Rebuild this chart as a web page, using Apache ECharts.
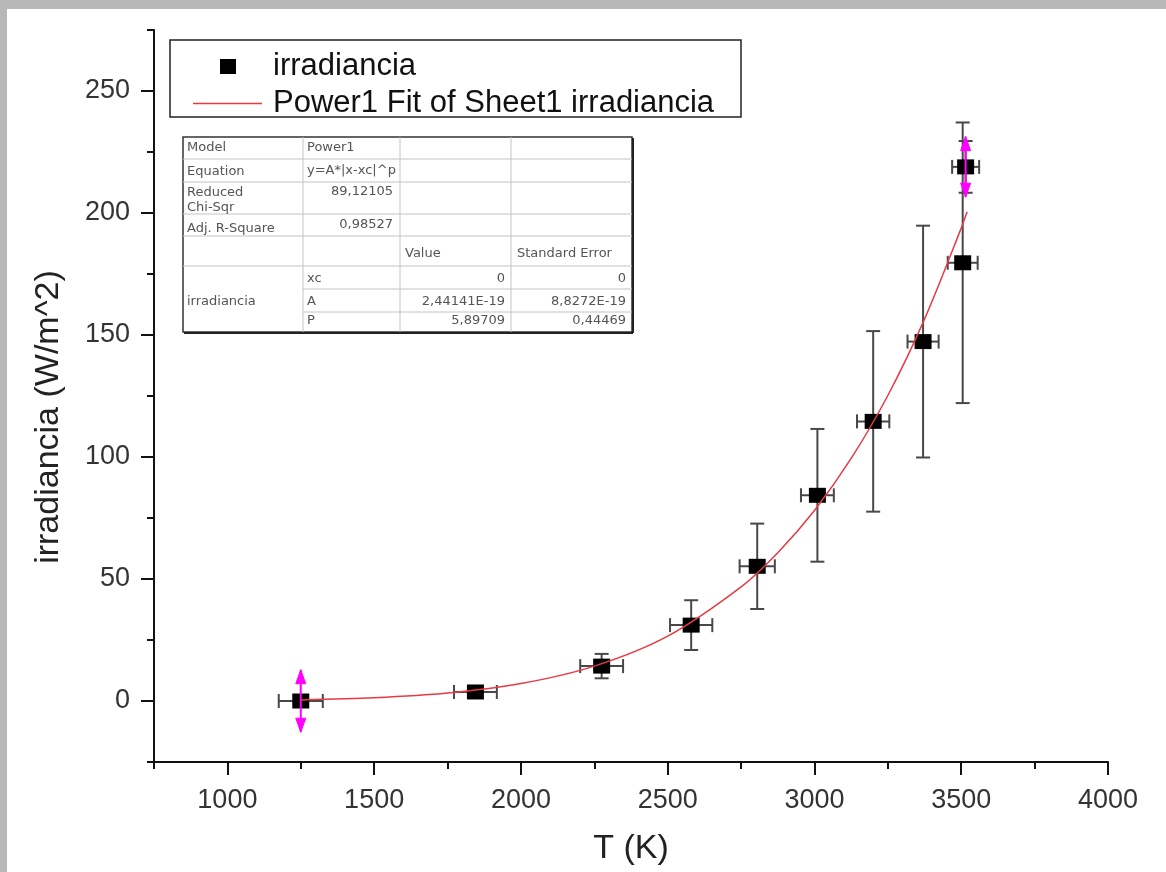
<!DOCTYPE html>
<html>
<head>
<meta charset="utf-8">
<script src="https://cdn.jsdelivr.net/npm/echarts@6/dist/echarts.min.js"></script>
<style>
html,body{margin:0;padding:0;width:1166px;height:872px;background:#b7b7b7;overflow:hidden;}
#main{position:absolute;left:7px;top:9px;width:1159px;height:863px;background:#ffffff;}
</style>
</head>
<body>
<div id="main"></div>
<script>
// ---- data ----
const T        = [1250, 1845, 2275, 2580, 2805, 3010, 3200, 3370, 3505, 3515];
const irr      = [0, 3.7, 14.3, 31.1, 55.2, 84.3, 114.6, 147.3, 179.6, 218.9];
const Terr     = [75, 73, 73, 72, 60, 56, 55, 53, 51, 46];
const irrErr   = [0, 1, 5, 10.2, 17.5, 27.2, 37, 47.5, 57.5, 10.6];
const clipErr  = [12.8, 0, 0, 0, 0, 0, 0, 0, 0, 12.4];   // magenta arrows
const fitT     = [1250, 1500, 1750, 2000, 2250, 2500, 2750, 2875, 3000, 3125, 3250, 3375, 3500, 3520];
const fitY     = [0.45, 1.31, 3.25, 7.15, 14.3, 26.6, 46.8, 60.8, 78.1, 99.4, 125.2, 156.5, 193.8, 200.5];
const xMajor   = [1000, 1500, 2000, 2500, 3000, 3500, 4000];
const xMinor   = [750, 1250, 1750, 2250, 2750, 3250, 3750];
const yMajor   = [0, 50, 100, 150, 200, 250];
const yMinor   = [-25, 25, 75, 125, 175, 225, 275];
const seriesName = 'irradiancia';
const fitName    = 'Power1 Fit of Sheet1 irradiancia';
// fit report table cells
const tableLeft  = [['Model', 148], ['Equation', 172], ['Reduced', 193], ['Chi-Sqr', 208], ['Adj. R-Square', 229], ['irradiancia', 302]];
const tableCol2L = [['Power1', 148], ['y=A*|x-xc|^p', 171], ['xc', 279], ['A', 302], ['P', 321]];
const tableCol2R = [['89,12105', 192], ['0,98527', 225]];
const tableHead  = [['Value', 405], ['Standard Error', 517]];
const tableVal   = [['0', '0', 279], ['2,44141E-19', '8,8272E-19', 302], ['5,89709', '0,44469', 321]];

const OX = 7, OY = 9; // page offset of chart area
const font = "'Liberation Sans', Arial, sans-serif";
const chart = echarts.init(document.getElementById('main'));

// table graphics (page coords -> chart coords)
const tL = 183 - OX, tT = 137 - OY, tR = 632 - OX, tB = 332 - OY;
const c1 = 303 - OX, c2 = 400 - OX, c3 = 511 - OX;
const rows = [159, 182, 214, 236, 266].map(v => v - OY);
const subRows = [289, 312].map(v => v - OY);
const tbl = [];
tbl.push({type:'rect', shape:{x:tL, y:tT, width:tR - tL, height:tB - tT}, style:{fill:'#fff', stroke:'#333', lineWidth:1.5}, z:10});
rows.forEach(y => tbl.push({type:'line', shape:{x1:tL, y1:y, x2:tR, y2:y}, style:{stroke:'#c4c4c4', lineWidth:1}, z:11}));
subRows.forEach(y => tbl.push({type:'line', shape:{x1:c1, y1:y, x2:tR, y2:y}, style:{stroke:'#c4c4c4', lineWidth:1}, z:11}));
[c1, c2, c3].forEach(x => tbl.push({type:'line', shape:{x1:x, y1:tT, x2:x, y2:tB}, style:{stroke:'#c4c4c4', lineWidth:1}, z:11}));
tbl.push({type:'line', shape:{x1:tR + 1, y1:tT + 1, x2:tR + 1, y2:tB + 1}, style:{stroke:'#222', lineWidth:2}, z:12});
tbl.push({type:'line', shape:{x1:tL + 1, y1:tB + 1, x2:tR + 1, y2:tB + 1}, style:{stroke:'#222', lineWidth:2}, z:12});
const tStyle = (txt, x, y, align) => ({type:'text', x:x, y:y, z:13,
  style:{text:txt, fill:'#555', font:"13px 'DejaVu Sans', sans-serif", textAlign:align, textVerticalAlign:'middle'}});
tableLeft.forEach(([t, y]) => tbl.push(tStyle(t, 187 - OX, y - OY, 'left')));
tableCol2L.forEach(([t, y]) => tbl.push(tStyle(t, 307 - OX, y - OY, 'left')));
tableCol2R.forEach(([t, y]) => tbl.push(tStyle(t, 393 - OX, y - OY, 'right')));
tableHead.forEach(([t, x]) => tbl.push(tStyle(t, x - OX, 254 - OY, 'left')));
tableVal.forEach(([a, b, y]) => { tbl.push(tStyle(a, 505 - OX, y - OY, 'right')); tbl.push(tStyle(b, 626 - OX, y - OY, 'right')); });

const axisCommon = {
  type:'value', splitLine:{show:false},
};
const plain = v => String(v);

chart.setOption({
  animation:false,
  grid:{left:154 - OX, top:30 - OY, width:954, height:732, containLabel:false},
  legend:[
    {data:[{name:seriesName, icon:'rect'}], left:213, top:42, orient:'vertical', padding:0,
     itemWidth:16, itemHeight:15, selectedMode:false,
     textStyle:{fontSize:31, color:'#111', fontFamily:font, padding:[0,0,0,32]}},
    {data:[{name:fitName, icon:'rect'}], left:186, top:79, orient:'vertical', padding:0,
     itemWidth:69, itemHeight:1.5, selectedMode:false,
     textStyle:{fontSize:31, color:'#111', fontFamily:font, padding:[0,0,0,6]}}
  ],
  xAxis:[
    Object.assign({}, axisCommon, {min:750, max:4000, position:'bottom',
      name:'T (K)', nameLocation:'middle', nameGap:70,
      nameTextStyle:{fontSize:34, color:'#222', fontFamily:font},
      axisLine:{show:true, onZero:false, lineStyle:{color:'#111', width:2}},
      axisTick:{show:true, customValues:xMajor, length:13, lineStyle:{color:'#111', width:2}},
      axisLabel:{show:true, customValues:xMajor, formatter:plain, fontSize:27, color:'#333', fontFamily:font, margin:25}}),
    Object.assign({}, axisCommon, {min:750, max:4000, position:'bottom',
      axisLine:{show:false, onZero:false},
      axisTick:{show:true, customValues:xMinor, length:7, lineStyle:{color:'#111', width:2}},
      axisLabel:{show:false}})
  ],
  yAxis:[
    Object.assign({}, axisCommon, {min:-25, max:275, position:'left',
      name:'irradiancia (W/m^2)', nameLocation:'middle', nameGap:88,
      nameTextStyle:{fontSize:34, color:'#222', fontFamily:font, padding:[0,42,0,0]},
      axisLine:{show:true, onZero:false, lineStyle:{color:'#111', width:2}},
      axisTick:{show:true, customValues:yMajor, length:13, lineStyle:{color:'#111', width:2}},
      axisLabel:{show:true, customValues:yMajor, formatter:plain, fontSize:27, color:'#333', fontFamily:font, margin:24}}),
    Object.assign({}, axisCommon, {min:-25, max:275, position:'left',
      axisLine:{show:false, onZero:false},
      axisTick:{show:true, customValues:yMinor, length:7, lineStyle:{color:'#111', width:2}},
      axisLabel:{show:false}})
  ],
  graphic:[
    {type:'rect', shape:{x:170 - OX, y:40 - OY, width:571, height:77}, style:{fill:'none', stroke:'#222', lineWidth:1.5}, z:5},
    {type:'group', children:tbl}
  ],
  series:[
    {type:'custom', name:'errbars', xAxisIndex:0, yAxisIndex:0, z:2,
     data:T.map((t, i) => [t, irr[i], Terr[i], irrErr[i]]),
     encode:{x:0, y:1},
     renderItem:function(params, api){
       const x = api.value(0), y = api.value(1), ex = api.value(2), ey = api.value(3);
       const l = api.coord([x - ex, y]), r = api.coord([x + ex, y]);
       const t = api.coord([x, y + ey]), b = api.coord([x, y - ey]);
       const st = {stroke:'#484848', lineWidth:2};
       const ch = [
         {type:'line', shape:{x1:l[0], y1:l[1], x2:r[0], y2:r[1]}, style:st},
         {type:'line', shape:{x1:l[0], y1:l[1] - 7, x2:l[0], y2:l[1] + 7}, style:st},
         {type:'line', shape:{x1:r[0], y1:r[1] - 7, x2:r[0], y2:r[1] + 7}, style:st}
       ];
       if (ey > 0) {
         ch.push({type:'line', shape:{x1:t[0], y1:t[1], x2:b[0], y2:b[1]}, style:st});
         ch.push({type:'line', shape:{x1:t[0] - 7, y1:t[1], x2:t[0] + 7, y2:t[1]}, style:st});
         ch.push({type:'line', shape:{x1:b[0] - 7, y1:b[1], x2:b[0] + 7, y2:b[1]}, style:st});
       }
       return {type:'group', children:ch};
     }},
    {type:'scatter', name:seriesName, xAxisIndex:0, yAxisIndex:0, z:3,
     data:T.map((t, i) => [t, irr[i]]), symbol:'rect', symbolSize:[17, 15],
     itemStyle:{color:'#000', opacity:1}},
    {type:'custom', name:'clip', xAxisIndex:0, yAxisIndex:0, z:4,
     data:T.map((t, i) => [t, irr[i], clipErr[i]]).filter(d => d[2] > 0),
     encode:{x:0, y:1},
     renderItem:function(params, api){
       const x = api.value(0), y = api.value(1), e = api.value(2);
       const t = api.coord([x, y + e]), b = api.coord([x, y - e]);
       const st = {fill:'#ff00ff', stroke:'#ff00ff', lineWidth:1};
       return {type:'group', children:[
         {type:'line', shape:{x1:t[0], y1:t[1], x2:b[0], y2:b[1]}, style:{stroke:'#ff00ff', lineWidth:2}},
         {type:'polygon', shape:{points:[[t[0], t[1]], [t[0] - 5, t[1] + 14], [t[0] + 5, t[1] + 14]]}, style:st},
         {type:'polygon', shape:{points:[[b[0], b[1]], [b[0] - 5, b[1] - 14], [b[0] + 5, b[1] - 14]]}, style:st}
       ]};
     }},
    {type:'line', name:fitName, xAxisIndex:0, yAxisIndex:0, z:5,
     data:fitT.map((t, i) => [t, fitY[i]]), symbol:'none', smooth:0.3,
     lineStyle:{color:'#e83a44', width:1.5}, itemStyle:{color:'#e83a44'}}
  ]
});
</script>
</body>
</html>
